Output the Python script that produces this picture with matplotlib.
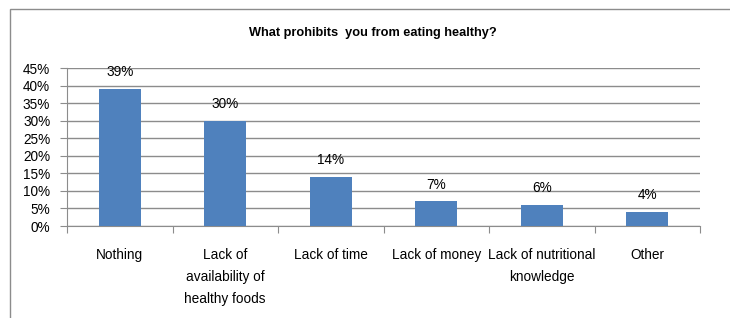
import matplotlib
matplotlib.use('Agg')
import matplotlib.pyplot as plt
from matplotlib.patches import Rectangle
from matplotlib.ticker import PercentFormatter, FixedLocator, NullFormatter

categories = ['Nothing', 'Lack of\navailability of\nhealthy foods', 'Lack of time',
              'Lack of money', 'Lack of nutritional\nknowledge', 'Other']
values = [39, 30, 14, 7, 6, 4]

plt.rcParams['font.family'] = ['Liberation Sans', 'DejaVu Sans']

fig = plt.figure(figsize=(7.3, 3.18), dpi=100)
# outer chart border
fig.patches.append(Rectangle((10 / 730, -0.02), 1.1, 1 - 9 / 318 + 0.02,
                             transform=fig.transFigure, fill=False,
                             edgecolor='#8c8c8c', linewidth=1))
ax = fig.add_axes([67 / 730, 1 - 226 / 318, 633 / 730, 158 / 318])

x = range(len(categories))
ax.bar(x, values, width=0.4, color='#4f81bd', zorder=3)
for i, v in zip(x, values):
    ax.annotate(f'{v}%', (i, v), xytext=(0, 7), textcoords='offset points',
                ha='center', va='bottom', fontsize=9.8)

ax.set_xlim(-0.5, len(categories) - 0.5)
ax.set_ylim(0, 45)
ax.set_yticks(range(0, 46, 5))
ax.yaxis.set_major_formatter(PercentFormatter(decimals=0))
ax.grid(axis='y', color='#8c8c8c', linewidth=1, zorder=0)

ax.xaxis.set_major_locator(FixedLocator([i - 0.5 for i in range(len(categories) + 1)]))
ax.xaxis.set_major_formatter(NullFormatter())
ax.set_xticks(list(x), categories, minor=True)
ax.tick_params(axis='x', which='minor', length=0, pad=16, labelsize=9.8)
ax.tick_params(axis='x', which='major', length=5, color='#8c8c8c', direction='out')
ax.tick_params(axis='y', length=5, color='#8c8c8c', labelsize=9.8, pad=7)
for lbl in ax.get_xticklabels(minor=True):
    lbl.set_verticalalignment('top')
    lbl.set_linespacing(1.7)

for s in ['top', 'right']:
    ax.spines[s].set_visible(False)
ax.spines['left'].set_color('#8c8c8c')
ax.spines['bottom'].set_color('#8c8c8c')

fig.text(373 / 730, 1 - 33 / 318, 'What prohibits  you from eating healthy?',
         ha='center', va='center', fontsize=9.2, fontweight='bold')

plt.savefig('out.png', dpi=100)
